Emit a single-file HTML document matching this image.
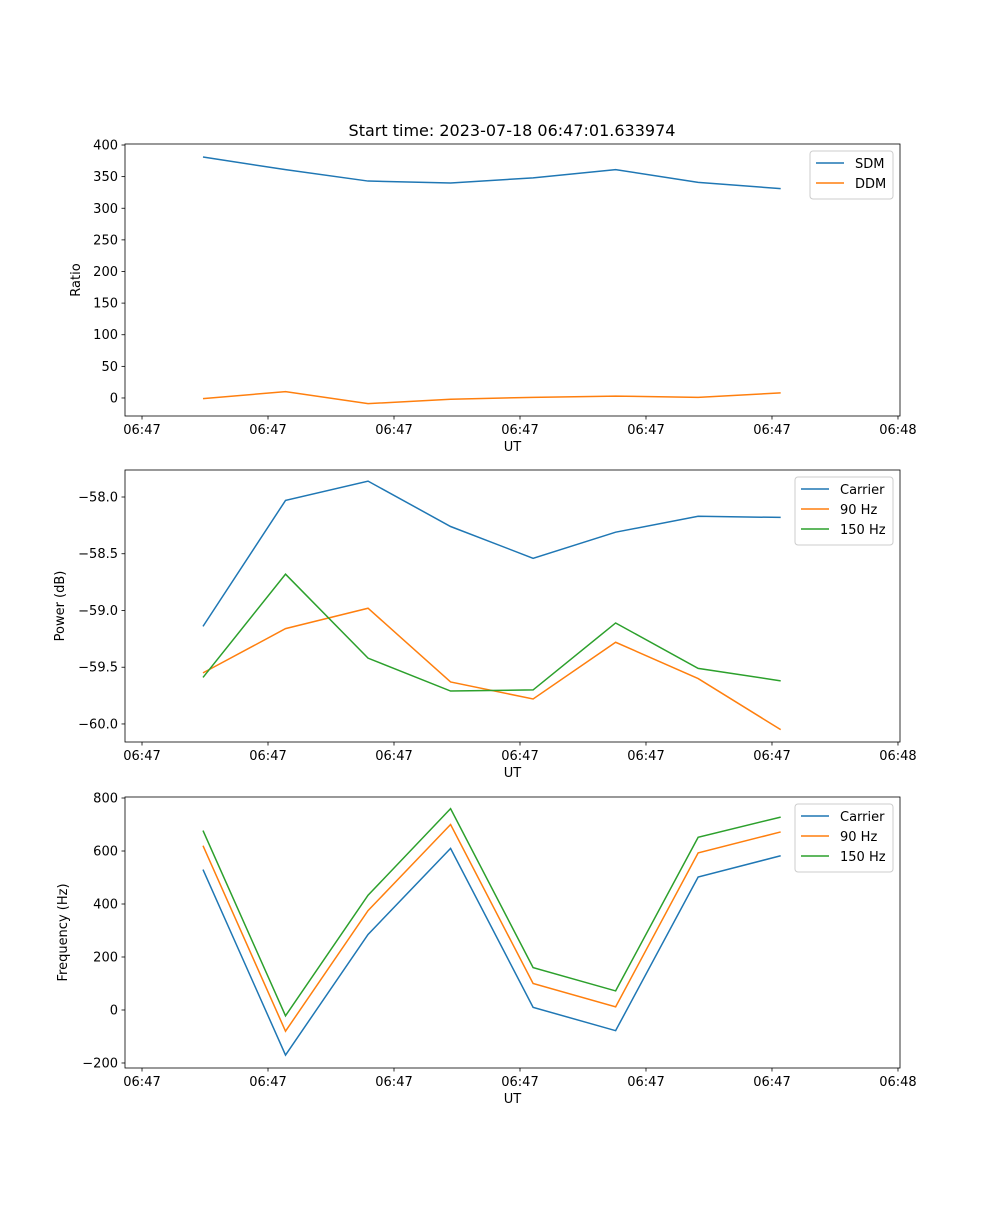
<!DOCTYPE html>
<html><head><meta charset="utf-8"><style>
body{margin:0;background:#fff}
svg text{font-family:"DejaVu Sans","Liberation Sans",sans-serif;fill:#000}
</style></head><body>
<svg id="fig" width="1000" height="1200" xmlns="http://www.w3.org/2000/svg"></svg>
<script>
const times = [4.84, 11.39, 17.94, 24.49, 31.04, 37.59, 44.14, 50.69];
const xTicks = [0, 10, 20, 30, 40, 50, 60];
const xTickLabels = ["06:47","06:47","06:47","06:47","06:47","06:47","06:48"];
const sdm = [381, 361, 343, 340, 348, 361, 341, 331];
const ddm = [-1, 10, -9, -2, 1, 3, 1, 8];
const pCarrier = [-59.14, -58.03, -57.86, -58.26, -58.54, -58.31, -58.17, -58.18];
const p90 = [-59.55, -59.16, -58.98, -59.63, -59.78, -59.28, -59.60, -60.05];
const p150 = [-59.59, -58.68, -59.42, -59.71, -59.70, -59.11, -59.51, -59.62];
const fCarrier = [530, -170, 285, 610, 10, -78, 502, 582];
const f90 = [620, -80, 375, 700, 100, 12, 593, 672];
const f150 = [677, -22, 433, 760, 160, 72, 652, 728];
const ratioTicks = [0,50,100,150,200,250,300,350,400];
const powerTicks = [-60.0,-59.5,-59.0,-58.5,-58.0];
const freqTicks = [-200,0,200,400,600,800];

const NS="http://www.w3.org/2000/svg";
const svg=document.getElementById('fig');
function mk(tag,attrs,parent){const e=document.createElementNS(NS,tag);for(const k in attrs)e.setAttribute(k,attrs[k]);(parent||svg).appendChild(e);return e;}
const L=125,R=900,X0=-1.35,X1=60.16;
function xs(t){return L+(t-X0)/(X1-X0)*(R-L);}
const colors=['#1f77b4','#ff7f0e','#2ca02c'];

function panel(name,top,bot,y0,y1,yticks,fmt,ylabel,series,names,legend){
  const g=mk('g',{}, svg);
  
  
  const ys=v=>bot-(v-y0)/(y1-y0)*(bot-top);
  yticks.forEach(v=>{
    const y=ys(v);
    mk('line',{x1:L-3.5,x2:L,y1:y,y2:y,stroke:'#000','stroke-width':0.8},g);
    const t=mk('text',{x:L-7,y:y+4.5,'text-anchor':'end','font-size':13},g);t.textContent=fmt(v);
    
    
  });
  xTicks.forEach((v,i)=>{
    const x=xs(v);
    mk('line',{x1:x,x2:x,y1:bot,y2:bot+3.5,stroke:'#000','stroke-width':0.8},g);
    const t=mk('text',{x:x,y:bot+18,'text-anchor':'middle','font-size':13},g);t.textContent=xTickLabels[i];
    
    
  });
  series.forEach((s,k)=>{
    const p=mk('polyline',{points:s.map((v,i)=>xs(times[i])+','+ys(v)).join(' '),fill:'none',stroke:colors[k],'stroke-width':1.5},g);
    
    
  });
  mk('rect',{x:L,y:top,width:R-L,height:bot-top,fill:'none',stroke:'#000','stroke-width':0.8},g);
  const xl=mk('text',{x:(L+R)/2,y:bot+35,'text-anchor':'middle','font-size':13},g);xl.textContent='UT';
  
  
  const yl=mk('text',{x:0,y:0,'text-anchor':'middle','font-size':13,transform:`translate(${legend.yl},${(top+bot)/2}) rotate(-90)`},g);yl.textContent=ylabel;
  
  
  const lg=mk('g',{},g);
  
  
  mk('rect',{x:legend.x,y:top+7,width:legend.w,height:8+names.length*20,rx:3,fill:'#fff','fill-opacity':0.8,stroke:'#ccc'},lg);
  names.forEach((n,k)=>{
    const y=top+19+k*20;
    mk('line',{x1:legend.x+6,x2:legend.x+34,y1:y,y2:y,stroke:colors[k],'stroke-width':1.5},lg);
    const t=mk('text',{x:legend.x+45,y:y+5,'font-size':13},lg);t.textContent=n;
    
    
  });
}
const title=mk('text',{x:512,y:136,'text-anchor':'middle','font-size':16});
title.textContent='Start time: 2023-07-18 06:47:01.633974';


panel('ratio',144,416,-28.5,401.6,ratioTicks,v=>String(v),'Ratio',[sdm,ddm],['SDM','DDM'],{x:810,w:83,yl:80});
panel('power',470,742,-60.159,-57.762,powerTicks,v=>'\u2212'.repeat(1)+Math.abs(v).toFixed(1),'Power (dB)',[pCarrier,p90,p150],['Carrier','90 Hz','150 Hz'],{x:795,w:98,yl:64});
panel('frequency',797,1068,-218.9,803.8,freqTicks,v=>v<0?'\u2212'+Math.abs(v):String(v),'Frequency (Hz)',[fCarrier,f90,f150],['Carrier','90 Hz','150 Hz'],{x:795,w:98,yl:67});
</script>
</body></html>
